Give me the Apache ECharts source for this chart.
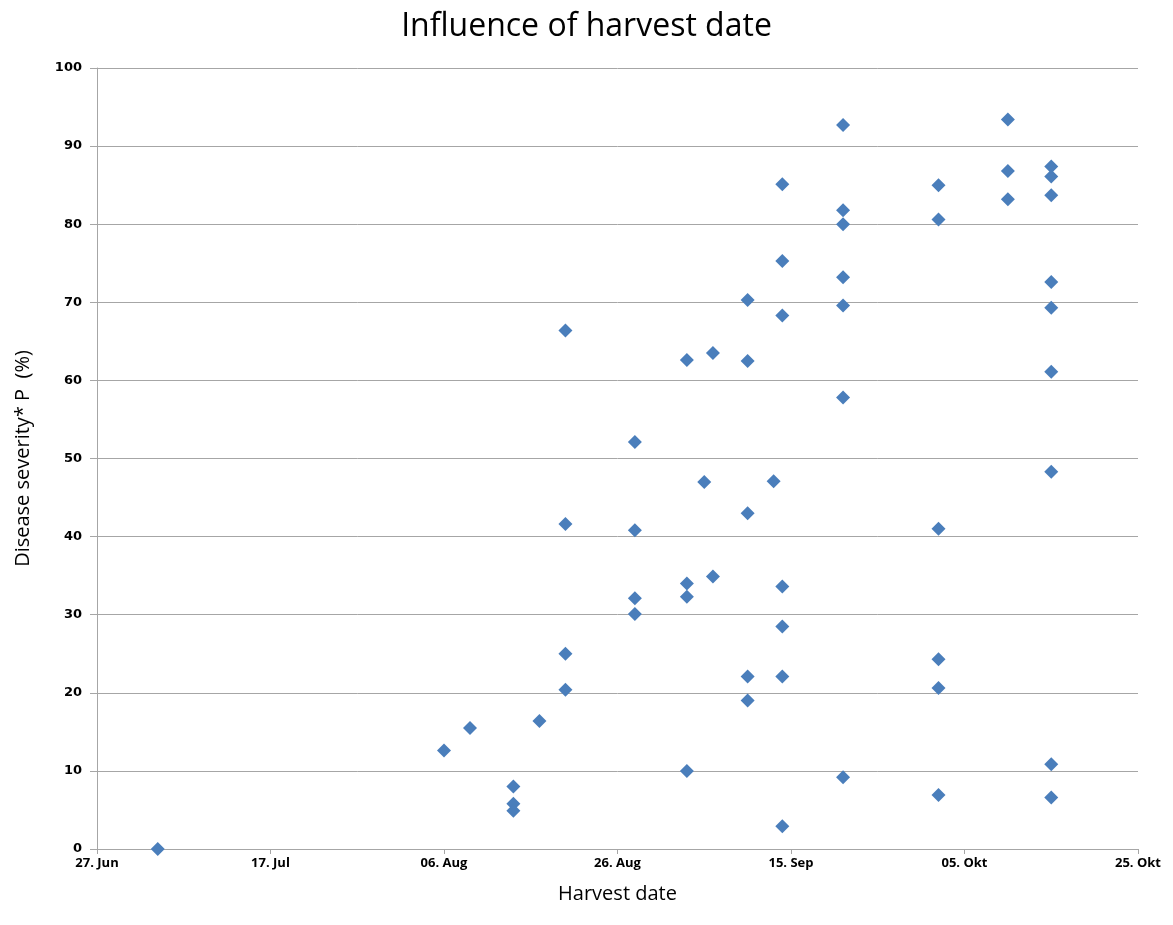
<!DOCTYPE html>
<html>
<head>
<meta charset="utf-8">
<script src="https://cdn.jsdelivr.net/npm/echarts@6/dist/echarts.min.js"></script>
<style>
html,body{margin:0;padding:0;background:#fff;}
#chart{width:1173px;height:925px;}
</style>
</head>
<body>
<div id="chart"></div>
<script>
// Harvest dates (month-day) and the disease severity values measured on each
var startDate = '06-27';
var harvestDates = ['07-04','08-06','08-09','08-14','08-17','08-20','08-28','09-03','09-05','09-06','09-10','09-13','09-14','09-21','10-02','10-10','10-15'];
var severity = [
  [0],
  [12.6],
  [15.5],
  [8.0, 5.8, 4.9],
  [16.4],
  [66.4, 41.6, 25.0, 20.4],
  [52.1, 40.8, 32.1, 30.1],
  [62.6, 34.0, 32.3, 10.0],
  [47.0],
  [63.5, 34.9],
  [70.3, 62.5, 43.0, 22.1, 19.0],
  [47.1],
  [85.1, 75.3, 68.3, 33.6, 28.5, 22.1, 2.9],
  [92.7, 81.8, 80.0, 73.2, 69.6, 57.8, 9.2],
  [85.0, 80.6, 41.0, 24.3, 20.6, 6.9],
  [93.4, 86.8, 83.2],
  [87.4, 86.1, 83.7, 72.6, 69.3, 61.1, 48.3, 10.85, 6.6]
];
var xTickLabels = ['27. Jun','17. Jul','06. Aug','26. Aug','15. Sep','05. Okt','25. Okt'];
var yTicks = [0,10,20,30,40,50,60,70,80,90,100];

function dayOffset(md) {
  var y = 2012;
  var a = md.split('-'), b = startDate.split('-');
  var d1 = Date.UTC(y, +a[0]-1, +a[1]);
  var d0 = Date.UTC(y, +b[0]-1, +b[1]);
  return Math.round((d1 - d0) / 86400000);
}

var points = [];
harvestDates.forEach(function (d, i) {
  var x = dayOffset(d);
  severity[i].forEach(function (v) { points.push([x, v]); });
});

var narrow = 'Liberation Sans Narrow, Open Sans, sans-serif';
var chart = echarts.init(document.getElementById('chart'));
chart.setOption({
  animation: false,
  backgroundColor: '#ffffff',
  title: {
    text: 'Influence of harvest date',
    left: 'center',
    top: 6,
    textStyle: { fontFamily: narrow, fontSize: 32, fontWeight: 'normal', color: '#000' }
  },
  grid: { left: 97, right: 35, top: 68, bottom: 76, containLabel: false },
  xAxis: {
    type: 'value',
    min: 0, max: 120, interval: 20,
    name: 'Harvest date',
    nameLocation: 'middle',
    nameGap: 35,
    nameTextStyle: { fontFamily: narrow, fontSize: 20, color: '#000' },
    axisLine: { show: true, lineStyle: { color: '#a6a6a6', width: 1 } },
    axisTick: { show: true, length: 5, inside: false, lineStyle: { color: '#a6a6a6' } },
    splitLine: { show: false },
    axisLabel: {
      margin: 8,
      fontFamily: narrow,
      fontSize: 13, fontWeight: 'bold', color: '#000',
      formatter: function (v) { return xTickLabels[Math.round(v / 20)] || ''; }
    }
  },
  yAxis: {
    type: 'value',
    min: 0, max: 100, interval: 10,
    name: 'Disease severity* P  (%)',
    nameLocation: 'middle',
    nameGap: 64,
    nameTextStyle: { fontFamily: narrow, fontSize: 20, color: '#000' },
    axisLine: { show: true, lineStyle: { color: '#a6a6a6', width: 1 } },
    axisTick: { show: true, length: 7, lineStyle: { color: '#a6a6a6' } },
    splitLine: { show: true, lineStyle: { color: '#a6a6a6', width: 1 } },
    axisLabel: {
      margin: 15,
      fontFamily: 'DejaVu Sans, Verdana, sans-serif',
      fontSize: 13, fontWeight: 'bold', color: '#000',
      formatter: function (v) { return yTicks.indexOf(v) >= 0 ? String(v) : ''; }
    }
  },
  series: [{
    type: 'scatter',
    symbol: 'diamond',
    symbolSize: [14, 14],
    itemStyle: { color: '#4a7ebb', opacity: 1 },
    data: points
  }]
});
</script>
</body>
</html>
